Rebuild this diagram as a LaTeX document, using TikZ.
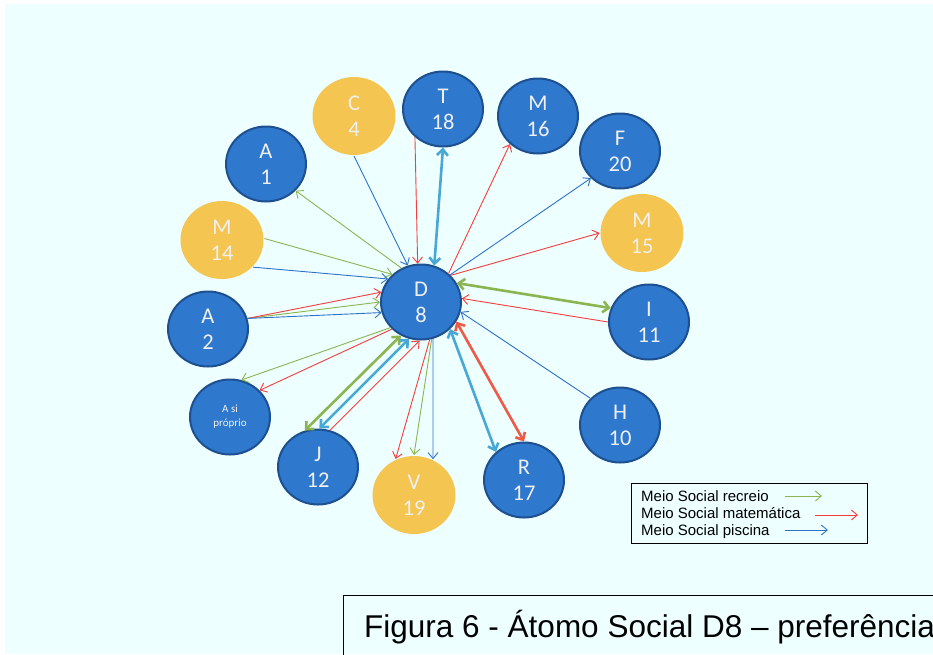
\documentclass[tikz,border=0pt]{standalone}
\usepackage{fontspec}
\setmainfont{Carlito}
\newfontfamily\arialfont{Liberation Sans}
\usetikzlibrary{shapes.geometric,arrows.meta}

\definecolor{paper}{HTML}{EEFFFF}
\definecolor{nodeblue}{HTML}{2E78CD}
\definecolor{nodeedge}{HTML}{1E4F8F}
\definecolor{nodegold}{HTML}{F4C550}
\definecolor{recreio}{HTML}{8CB450}
\definecolor{matem}{HTML}{F83C3C}
\definecolor{matemthick}{HTML}{EE5A48}
\definecolor{piscina}{HTML}{2F72C9}
\definecolor{piscinathick}{HTML}{47A8D5}

\tikzset{
  person/.style={ellipse, inner sep=0pt, minimum width=80pt, minimum height=75pt,
    fill=nodeblue, draw=nodeedge, line width=2pt, text=white!94!black,
    font=\fontsize{22.5}{26}\selectfont, align=center},
  guest/.style={person, fill=nodegold, draw=none, minimum width=83pt, minimum height=78pt},
  thin/.style={line width=0.9pt, -{Straight Barb[length=6pt,width=10pt]}},
  thick/.style={line width=2.6pt, {Straight Barb[length=6pt,width=11pt]}-{Straight Barb[length=6pt,width=11pt]}},
  legtext/.style={anchor=base west, inner sep=0pt, font=\arialfont\fontsize{15}{17}\selectfont}
}

\begin{document}
\begin{tikzpicture}[x=1pt,y=-1pt]
  \useasboundingbox (0,0) rectangle (933,654);
  \clip (0,0) rectangle (933,654);
  \fill[paper] (5,4) rectangle (933,654);

  % people around the centre
  \node[person] (D)   at (421,302) {D\\8};
  \node[person] (T)   at (443,109) {T\\18};
  \node[guest]  (C)   at (354,116) {C\\4};
  \node[person] (M16) at (538,116) {M\\16};
  \node[person] (F)   at (620,151) {F\\20};
  \node[person] (A1)  at (266,164) {A\\1};
  \node[guest]  (M14) at (222,240) {M\\14};
  \node[guest]  (M15) at (642,233) {M\\15};
  \node[person] (A2)  at (208,329) {A\\2};
  \node[person] (I)   at (649,322) {I\\11};
  \node[person, font=\fontsize{11}{14}\selectfont] (S) at (230,417) {A si\\próprio};
  \node[person] (H)   at (620,425) {H\\10};
  \node[person] (J)   at (318,467) {J\\12};
  \node[guest]  (V)   at (414,495) {V\\19};
  \node[person] (R)   at (524,480) {R\\17};

  % recreio
  \draw[thin, recreio] (D.120) -- (A1.-42);
  \draw[thin, recreio] (M14.2) -- (D.136);
  \draw[thin, recreio] (A2.15) -- (D.180);
  \draw[thin, recreio] (D.-140) -- (S.73);
  \draw[thin, recreio] (D.-74) -- (V.90);
  \draw[thick, recreio] (J.110) -- (D.-121);
  \draw[thick, recreio] (I.160) -- (D.28);

  % matematica
  \draw[thin, matem] (A2.15) -- (D.166);
  \draw[thin, matem] (T.-135) -- (D.95);
  \draw[thin, matem] (D.46) -- (M16.-135);
  \draw[thin, matem] (D.42) -- (M15.180);
  \draw[thin, matem] (I.180) -- (D.5);
  \draw[thin, matem] (J.72) -- (D.-92);
  \draw[thin, matem] (D.-77) -- (V.117);
  \draw[thin, matem] (D.-137) -- (S.42);
  \draw[thick, matemthick] (D.-29) -- (R.90);

  % piscina
  \draw[thin, piscina] (A2.15) -- (D.195);
  \draw[thin, piscina] (M14.-41) -- (D.145);
  \draw[thin, piscina] (C.-90) -- (D.110);
  \draw[thin, piscina] (D.43) -- (F.-137);
  \draw[thin, piscina] (H.138) -- (D.-14);
  \draw[thin, piscina] (D.-72) -- (V.62);
  \draw[thick, piscinathick] (T.-90) -- (D.70);
  \draw[thick, piscinathick] (J.88) -- (D.-108);
  \draw[thick, piscinathick] (R.135) -- (D.-43);

  % legend
  \node[draw=black, line width=0.8pt, inner sep=0pt, minimum width=236pt, minimum height=60pt, anchor=north west] (leg) at (631,483) {};
  \node[legtext] (l1) at (641,501) {Meio Social recreio};
  \node[legtext] (l2) at (641,518) {Meio Social matemática};
  \node[legtext] (l3) at (641,535) {Meio Social piscina};
  \coordinate (g0) at (785,496); \coordinate (g1) at (822,496);
  \coordinate (r0) at (815,515); \coordinate (r1) at (858,515);
  \coordinate (b0) at (785,530); \coordinate (b1) at (828,530);
  \draw[thin, recreio] (g0) -- (g1);
  \draw[thin, matem] (r0) -- (r1);
  \draw[thin, piscina] (b0) -- (b1);

  % caption
  \node[draw=black, line width=1pt, inner sep=0pt, minimum width=620pt, minimum height=80pt, anchor=north west] (cap) at (343,595) {};
  \node[anchor=base west, inner sep=0pt, font=\arialfont\fontsize{31.5}{35}\selectfont] (capt) at (364,637) {Figura 6 - Átomo Social D8 – preferência};
\end{tikzpicture}
\end{document}
